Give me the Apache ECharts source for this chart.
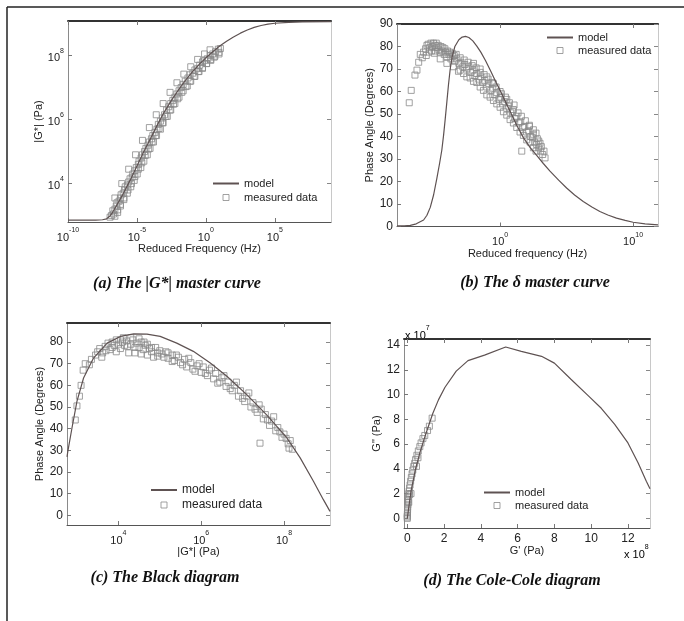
<!DOCTYPE html>
<html><head><meta charset="utf-8">
<script src="https://cdn.jsdelivr.net/npm/echarts@6/dist/echarts.min.js"></script>
<style>html,body{margin:0;padding:0;background:#fff}#c{width:684px;height:621px}</style>
</head><body><div id="c"></div>
<script>
// ---------- (a) |G*| master curve : [log10 freq, log10 |G*|] ----------
const aModel = [[-10,2.86],[-9,2.86],[-8,2.86],[-7.5,2.87],[-7.2,2.9],[-7.0,2.97],[-6.8,3.08],[-6.5,3.3],[-6.0,3.68],[-5.5,4.1],[-5.0,4.55],[-4.5,5.0],[-4.0,5.42],[-3.5,5.85],[-3.0,6.25],[-2.5,6.6],[-2.0,6.92],[-1.5,7.22],[-1.0,7.48],[-0.5,7.72],[0,7.93],[0.5,8.12],[1.0,8.3],[1.5,8.45],[2.0,8.58],[2.5,8.7],[3.0,8.8],[3.5,8.88],[4.0,8.94],[4.5,8.98],[5.0,9.01],[6.0,9.04],[7.0,9.05],[9.07,9.06]];
const aData = [[-6.95,2.95],[-6.85,3.0],[-6.7,3.05],[-6.75,3.15],[-6.6,3.2],[-6.5,3.3],[-6.45,3.4],[-6.3,3.45],[-6.2,3.55],[-6.15,3.65],[-6.0,3.7],[-5.9,3.8],[-5.85,3.9],[-5.7,3.95],[-5.6,4.05],[-5.5,4.15],[-5.35,4.2],[-5.3,4.3],[-5.15,4.4],[-5.05,4.5],[-4.9,4.6],[-4.85,4.7],[-4.7,4.8],[-4.6,4.9],[-4.45,5.0],[-4.35,5.1],[-4.2,5.2],[-4.1,5.3],[-3.95,5.4],[-3.85,5.5],[-3.7,5.6],[-3.55,5.7],[-3.45,5.85],[-3.3,5.95],[-3.15,6.05],[-3.0,6.15],[-2.85,6.3],[-2.7,6.4],[-2.55,6.5],[-2.4,6.6],[-2.25,6.7],[-2.1,6.8],[-1.95,6.9],[-1.8,7.0],[-1.65,7.1],[-1.5,7.2],[-1.3,7.3],[-1.15,7.4],[-0.95,7.45],[-0.8,7.55],[-0.6,7.6],[-0.45,7.7],[-0.25,7.8],[-0.1,7.85],[0.1,7.9],[0.3,8.0],[0.5,8.05],[0.7,8.12],[0.9,8.2],
 [-6.6,2.98],[-6.4,3.18],[-6.2,3.35],[-5.95,3.55],[-5.65,3.8],[-5.4,4.0],[-5.15,4.22],[-4.9,4.45],[-4.65,4.65],[-4.4,4.88],[-4.15,5.08],[-3.9,5.3],[-3.65,5.5],[-3.4,5.72],[-3.15,5.9],[-2.9,6.1],[-2.6,6.3],[-2.35,6.48],[-2.05,6.65],[-1.75,6.85],[-1.45,7.03],[-1.15,7.2],[-0.85,7.35],[-0.55,7.5],[-0.25,7.62],[0.05,7.75],[0.35,7.88],[0.65,7.98],[0.95,8.1],[1.05,8.22],
 [-6.6,3.55],[-6.1,4.0],[-5.6,4.45],[-5.1,4.9],[-4.6,5.35],[-4.1,5.75],[-3.6,6.15],[-3.1,6.5],[-2.6,6.85],[-2.1,7.15],[-1.6,7.42],[-1.1,7.65],[-0.6,7.88],[-0.1,8.05],[0.3,8.18],
 [-6.4,3.1],[-5.95,3.5],[-5.45,3.9],[-4.98,4.3],[-4.5,4.7],[-4.05,5.1],[-3.58,5.5],[-3.1,5.9],[-2.55,6.3],[-1.95,6.7],[-1.35,7.05],[-0.8,7.35],[-0.25,7.6],[0.35,7.85],[0.95,8.05],
 [-6.2,3.3],[-5.7,3.7],[-5.2,4.1],[-4.72,4.5],[-4.25,4.9],[-3.8,5.3],[-3.3,5.7],[-2.8,6.1],[-2.25,6.5],[-1.65,6.9],[-1.1,7.2],[-0.5,7.5],[0.05,7.75],[0.6,7.95]];
const aXTicks = [-10, -5, 0, 5];
const aYTicks = [4, 6, 8];

// ---------- (b) delta master curve : [log10 freq, phase angle] ----------
const bModel = [[-7.75,0.3],[-7.2,0.3],[-6.75,0.5],[-6.3,1.2],[-5.75,2.9],[-5.5,5],[-5.25,8.5],[-5.0,14],[-4.75,21.5],[-4.55,28],[-4.38,34],[-4.25,40.5],[-4.13,47.5],[-4.0,55.5],[-3.88,63],[-3.75,70],[-3.6,75.5],[-3.4,80],[-3.1,83],[-2.85,84.2],[-2.6,84.5],[-2.35,84.0],[-2.05,82.5],[-1.75,80.2],[-1.45,77.5],[-1.1,73.8],[-0.7,69],[-0.3,64],[0,60.5],[0.4,55.5],[0.75,51.2],[1.25,45],[1.75,39.5],[2.25,35.2],[2.75,31.6],[3.25,28],[3.75,24.6],[4.4,20.6],[5.0,17.1],[5.6,14],[6.25,11.1],[6.9,8.7],[7.5,6.7],[8.1,5.1],[8.75,3.7],[9.4,2.7],[10,1.9],[10.9,1.2],[11.87,0.7]];
const bData = [[-6.83,55],[-6.68,60.5],[-6.4,67.3],[-6.25,69.5],[-6.12,73],[-6.0,76.5],[-5.85,75],[-5.75,77.5],[-5.6,79],[-5.5,80.5],[-5.4,81],[-5.3,79.5],[-5.2,81.5],[-5.1,80],[-5.0,81.5],[-4.9,80.5],[-4.85,78],[-4.75,79.5],[-4.6,78.5],[-4.5,77.5],[-4.5,74.5],[-4.35,78],[-4.2,76.5],[-4.1,77.5],[-4.0,75.5],[-3.85,76.5],[-3.7,74.5],[-3.55,75.5],[-3.4,73.5],[-3.25,74.5],[-3.13,69],[-3.1,72.5],[-2.95,73],[-2.8,71],[-2.65,72],[-2.5,70],[-2.35,71],[-2.2,68.5],[-2.05,69.5],[-1.9,67],[-1.75,68],[-1.6,65.5],[-1.45,66.5],[-1.3,64],[-1.15,65],[-1.0,62],[-0.85,63.5],[-0.7,60.5],[-0.55,61.5],[-0.4,58.5],[-0.25,59.5],[-0.1,56.5],[0.05,57.5],[0.2,54.5],[0.35,55.5],[0.5,52.5],[0.65,53.5],[0.8,50.5],[0.95,51],[1.1,48],[1.25,49],[1.4,46],[1.55,46.5],[1.63,33.5],[1.7,44],[1.85,44.5],[2.0,42],[2.15,42.5],[2.3,40],[2.45,39.5],[2.5,43],[2.6,37.5],[2.75,36.5],[2.9,35],[3.05,33.5],[3.2,32],[3.38,30.5],
 [-2.0,72.5],[-1.5,70],[-1.0,66.5],[-0.5,63.5],[0,60],[0.5,56.5],[1.0,52],[-2.5,66.5],[-2.0,64.5],[-1.5,62],[-1.0,58.5],[-0.5,56],[0,53],[0.5,49.5],[1.0,46],[1.5,42],[2.0,38.5],[2.5,35],[2.2,45],[2.8,39],[3.0,37],
 [-5.55,76],[-5.35,77.5],[-5.15,78],[-4.95,77],[-4.8,81.5],[-4.65,80.5],[-4.45,80],[-4.3,79.5],[-4.15,79],[-3.95,78],[-3.8,77.5],[-3.6,77],[-3.45,76],[-3.3,76.5],[-3.0,75],[-2.7,74],[-2.4,73],[-2.1,71.5],[-1.8,70.5],[-1.5,68.5],[-1.2,67.5],[-0.9,65.5],[-0.6,64],[-0.3,62],[0.1,59],[0.4,57.5],[0.7,55],[1.05,54],[1.35,50.5],[1.6,49],[1.9,47],[2.2,44.5],[2.5,41],[2.7,41.5],[2.9,38],[3.1,35.5],[3.3,33.5],
 [-4.0,72.5],[-3.5,71],[-3.0,69.5],[-2.75,68],[-2.25,66],[-1.75,64],[-1.25,60.5],[-0.75,57.5],[-0.25,54.5],[0.25,51],[0.75,47.5],[1.25,44],[1.75,40.5],[2.25,37.5],[2.7,33.5]];
const bXTicks = [0, 10];
const bYTicks = [0, 10, 20, 30, 40, 50, 60, 70, 80, 90];

// ---------- (c) Black diagram : [log10 |G*|, phase angle] ----------
const cModel = [[2.76,27],[2.78,29.5],[2.88,40.3],[3.0,52.6],[3.16,63.4],[3.4,72.6],[3.73,79.5],[4.05,82.6],[4.37,83.8],[4.69,83.7],[5.01,82.6],[5.41,79.5],[5.81,75.7],[6.22,70.3],[6.62,64.2],[7.1,55.7],[7.58,46.4],[8.07,35.7],[8.39,26.5],[8.71,15.7],[8.95,7.2],[9.11,1.8]];
const cData = [[2.96,44],[3.0,50.5],[3.06,55],[3.1,60],[3.15,67],[3.2,70],[3.3,69.5],[3.35,72],[3.45,74],[3.5,75.5],[3.55,77],[3.62,75],[3.68,78],[3.75,79.5],[3.8,76.5],[3.85,80],[3.9,78.5],[3.95,81],[4.0,79],[4.05,81],[4.1,80],[4.15,78.5],[4.2,80.5],[4.25,75],[4.3,79],[4.35,81],[4.4,75],[4.45,79.5],[4.5,77.5],[4.55,80],[4.6,76.5],[4.65,78.5],[4.7,74],[4.75,77],[4.8,75.5],[4.9,77.5],[4.95,73.5],[5.0,76],[5.05,74.5],[5.15,75.5],[5.2,72.5],[5.3,74],[5.35,71.5],[5.45,73],[5.5,70.5],[5.6,72],[5.65,68.5],[5.75,70.5],[5.8,67.5],[5.9,69],[6.0,66],[6.05,68.5],[6.15,64.5],[6.2,67],[6.3,63],[6.35,65.5],[6.45,61.5],[6.5,63.5],[6.6,59.5],[6.65,61.5],[6.75,57.5],[6.8,60],[6.9,55],[6.95,57.5],[7.05,52.5],[7.1,55],[7.2,50],[7.25,52],[7.35,47.5],[7.42,33.3],[7.45,49],[7.5,44.5],[7.55,46.5],[7.65,41.5],[7.7,43.5],[7.8,39],[7.85,40.5],[7.95,36],[8.0,37.5],[8.1,33],[8.15,34.5],[8.2,30.5],
 [3.6,73],[3.7,76],[3.85,77.5],[3.95,75.5],[4.05,77],[4.12,82],[4.22,78],[4.3,82],[4.4,77.5],[4.5,81.5],[4.55,74.5],[4.62,80],[4.7,79],[4.8,77.5],[4.85,73],[4.95,75],[5.1,73],[5.2,75],[5.3,71],[5.4,74],[5.55,69.5],[5.7,72.5],[5.85,66.5],[5.95,70],[6.1,65.5],[6.25,68],[6.4,61],[6.55,64.5],[6.7,58.5],[6.85,61.5],[7.0,54],[7.15,56.5],[7.3,49],[7.4,51],[7.6,44],[7.75,45.5],[7.9,38.5],[8.05,35.5],[8.12,31]];
const cXTicks = [4, 6, 8];
const cYTicks = [0, 10, 20, 30, 40, 50, 60, 70, 80];

// ---------- (d) Cole-Cole diagram : [G' / 1e8, G'' / 1e7] ----------
const dModel = [[0,0],[0.2,2.2],[0.45,4.0],[0.7,5.4],[1.0,6.8],[1.39,8.5],[1.7,9.6],[2.05,10.6],[2.66,11.9],[3.3,12.75],[4.2,13.2],[5.35,13.85],[6.2,13.5],[7.3,13.1],[8.0,12.55],[8.9,11.25],[9.85,9.9],[10.55,8.9],[11.28,7.6],[12.0,6.1],[12.55,4.5],[13.0,3.0],[13.2,2.4]];
const dData = [[1.35,8.1],[1.2,7.45],[1.1,7.1],[0.95,6.7],[0.85,6.45],[0.75,6.1],[0.68,5.8],[0.6,5.45],[0.52,5.1],[0.45,4.75],[0.4,4.45],[0.35,4.2],[0.3,3.9],[0.26,3.6],[0.22,3.3],[0.18,3.0],[0.15,2.7],[0.12,2.45],[0.1,2.2],[0.08,2.0],[0.06,1.75],[0.05,1.5],[0.04,1.3],[0.03,1.1],[0.02,0.9],[0.015,0.7],[0.01,0.5],[0.005,0.35],[0,0.2],[0,0.1],[0,0],[0.12,1.9],[0.2,2.0],[0.08,1.3],[0.5,4.2],[0.58,4.9]];
const dXTicks = [0, 2, 4, 6, 8, 10, 12];
const dYTicks = [0, 2, 4, 6, 8, 10, 12, 14];

const captions = ['(a) The |G*| master curve', '(b) The \u03b4 master curve', '(c) The Black diagram', '(d) The Cole-Cole diagram'];

// ---------- build ----------
const FONT = 'Liberation Sans';
const MODEL_COLOR = '#5e5252';
const DATA_COLOR = '#8a8a8a';
const rich = {
  b: {fontSize: 11, lineHeight: 16, verticalAlign: 'bottom', fontFamily: FONT, color: '#222'},
  s: {fontSize: 7, lineHeight: 8, verticalAlign: 'top', fontFamily: FONT, color: '#222'}
};
const logFmt = v => '{b|10}{s|' + v + '}';

const grids = [
  {left: 68, top: 21, width: 263, height: 201},
  {left: 397, top: 24, width: 261, height: 202.5},
  {left: 67, top: 323, width: 263, height: 202},
  {left: 404, top: 339, width: 246, height: 189}
];
const P = [
  {x:[-10, 9.07], y:[2.8, 9.08], xt:aXTicks, yt:aYTicks, xf:logFmt, yf:logFmt, xn:'Reduced Frequency (Hz)', yn:'|G*| (Pa)', xg:20, yg:19, fs:11},
  {x:[-7.75, 11.87], y:[0, 90], xt:bXTicks, yt:bYTicks, xf:logFmt, yf:null, xn:'Reduced frequency (Hz)', yn:'Phase Angle (Degrees)', xg:16, yg:21, fs:12},
  {x:[2.76, 9.11], y:[-4.5, 88.8], xt:cXTicks, yt:cYTicks, xf:logFmt, yf:null, xn:'|G*| (Pa)', yn:'Phase Angle (Degrees)', xg:17, yg:20, fs:12},
  {x:[-0.18, 13.2], y:[-0.78, 14.5], xt:dXTicks, yt:dYTicks, xf:null, yf:null, xn:"G' (Pa)", yn:'G" (Pa)', xg:15, yg:14, fs:12}
];
const xAxis = [], yAxis = [];
P.forEach((p, i) => {
  const nameStyle = {fontFamily: FONT, fontSize: 11, color: '#222'};
  const lbl = (ticks, fmt, margin) => ({customValues: ticks, formatter: fmt || undefined, margin, color: '#222', fontSize: p.fs, fontFamily: FONT, rich});
  xAxis.push({type:'value', gridIndex:i, position:'bottom', min:p.x[0], max:p.x[1],
    axisLine:{onZero:false, lineStyle:{color:'#555', width:1}},
    axisTick:{inside:true, length:4, customValues:p.xt, lineStyle:{color:'#777'}},
    axisLabel: lbl(p.xt, p.xf, 5), splitLine:{show:false},
    name:p.xn, nameLocation:'middle', nameGap:p.xg, nameTextStyle:nameStyle});
  xAxis.push({type:'value', gridIndex:i, position:'top', min:p.x[0], max:p.x[1],
    axisLine:{onZero:false, lineStyle:{color:'#333', width:2}},
    axisTick:{inside:true, length:4, customValues:p.xt, lineStyle:{color:'#777'}},
    axisLabel:{show:false}, splitLine:{show:false}});
  yAxis.push({type:'value', gridIndex:i, position:'left', min:p.y[0], max:p.y[1],
    axisLine:{onZero:false, lineStyle:{color:'#8a8a8a', width:1}},
    axisTick:{inside:true, length:4, customValues:p.yt, lineStyle:{color:'#777'}},
    axisLabel: lbl(p.yt, p.yf, 4), splitLine:{show:false},
    name:p.yn, nameLocation:'middle', nameGap:p.yg, nameRotate:90, nameTextStyle:nameStyle});
  yAxis.push({type:'value', gridIndex:i, position:'right', min:p.y[0], max:p.y[1],
    axisLine:{onZero:false, lineStyle:{color:'#c8c8c8', width:1}},
    axisTick:{inside:true, length:4, customValues:p.yt, lineStyle:{color:'#888'}},
    axisLabel:{show:false}, splitLine:{show:false}});
});

const models = [aModel, bModel, cModel, dModel];
const datas = [aData, bData, cData, dData];
const series = [];
for (let i = 0; i < 4; i++) {
  series.push({type:'scatter', name:'measured data', xAxisIndex:2*i, yAxisIndex:2*i, data:datas[i],
    symbol:'rect', symbolSize:6, symbolKeepAspect:true, silent:true,
    itemStyle:{color:'rgba(255,255,255,0)', borderColor:DATA_COLOR, borderWidth:1}});
  series.push({type:'line', name:'model', xAxisIndex:2*i, yAxisIndex:2*i, data:models[i],
    symbol:'none', showSymbol:false, silent:true, z:3,
    lineStyle:{color:MODEL_COLOR, width:1.2}, itemStyle:{color:MODEL_COLOR, opacity:0}});
}

const legendPos = [
  {left:212, top:178, gap:3, fs:11},
  {left:546, top:32, gap:2, fs:11},
  {left:150, top:484, gap:3, fs:12},
  {left:483, top:487, gap:2, fs:11}
];
const legend = legendPos.map(l => ({
  orient:'vertical', left:l.left, top:l.top, padding:0, itemGap:l.gap, itemWidth:26, itemHeight:6,
  selectedMode:false, symbolKeepAspect:true,
  textStyle:{fontFamily:FONT, fontSize:l.fs, color:'#222'},
  data:[{name:'model', itemStyle:{opacity:0}},
        {name:'measured data', icon:'path://M0,0L10,0L10,10L0,10Z', itemStyle:{color:'rgba(255,255,255,0)', borderColor:DATA_COLOR, borderWidth:1}}]
}));

const capPos = [[177, 276], [535, 275], [165, 570], [512, 573]];
const title = captions.map((t, i) => ({
  text:t, left:capPos[i][0], top:capPos[i][1], textAlign:'center', padding:0,
  textStyle:{fontFamily:'Liberation Serif', fontStyle:'italic', fontWeight:'bold', fontSize:16, color:'#111'}
}));

const option = {
  animation:false,
  backgroundColor:'#fff',
  title, legend,
  grid: grids.map(g => Object.assign({containLabel:false, outerBoundsMode:'none'}, g)),
  xAxis, yAxis, series,
  graphic:[
    {type:'line', shape:{x1:7, y1:7, x2:684, y2:7}, style:{stroke:'#222', lineWidth:1.5}},
    {type:'line', shape:{x1:7, y1:7, x2:7, y2:621}, style:{stroke:'#222', lineWidth:1.5}},
    {type:'text', left:405, top:325, style:{text:'{b|x 10}{s|7}', rich}},
    {type:'text', left:624, top:544, style:{text:'{b|x 10}{s|8}', rich}}
  ]
};
const chart = echarts.init(document.getElementById('c'), null, {renderer:'canvas'});
chart.setOption(option);
</script>
</body></html>
